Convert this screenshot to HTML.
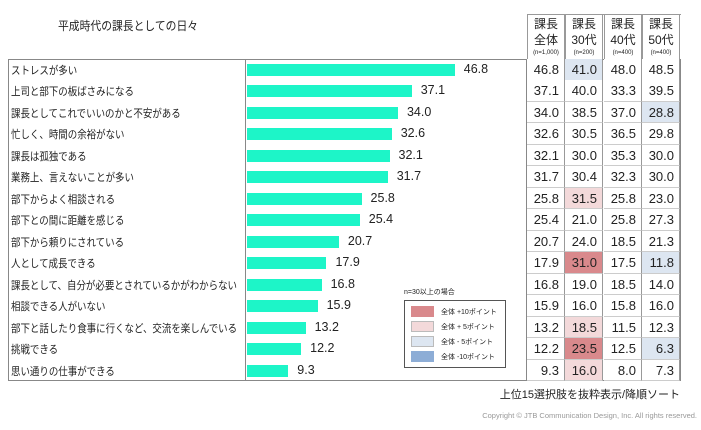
<!DOCTYPE html>
<html><head><meta charset="utf-8"><style>
body{margin:0;width:701px;height:430px;background:#fff;font-family:"Liberation Sans","Noto Sans CJK JP",sans-serif;position:relative;overflow:hidden;color:#222}
.a{position:absolute}
.lbl{font-size:11px;left:11px;white-space:nowrap;transform:scaleX(0.86);transform-origin:0 0}
.bar{background:#1df5c8;height:12px;left:247px}
.v{font-size:12.5px}
.c{position:absolute;width:38px;height:21px;font-size:13px;text-align:right;box-sizing:border-box;padding-right:5px;line-height:21px;border-right:1px solid #999;border-bottom:1px solid #ccc}
.h{position:absolute;width:38px;top:14px;height:45px;border-left:1px solid #999;border-right:1px solid #999;box-sizing:border-box;text-align:center;font-size:12px;line-height:16px;padding-top:2px}
.h small{font-size:6px;display:block;line-height:10px}
</style></head><body>
<div class="a" style="left:58px;top:17px;font-size:12px;transform:scaleX(0.9);transform-origin:0 0">平成時代の課長としての日々</div>
<div class="h" style="left:527px">課長<br>全体<small>(n=1,000)</small></div>
<div class="h" style="left:565px">課長<br>30代<small>(n=200)</small></div>
<div class="h" style="left:604px">課長<br>40代<small>(n=400)</small></div>
<div class="h" style="left:642px">課長<br>50代<small>(n=400)</small></div>
<div class="a" style="left:527px;top:14px;width:154px;border-top:1px solid #999"></div>
<div class="a" style="left:8px;top:59px;width:673px;height:322px;border:1px solid #888;box-sizing:border-box"></div>
<div class="a" style="left:245px;top:59px;height:322px;border-left:1px solid #888"></div>
<div class="a" style="left:526px;top:59px;height:322px;border-left:1px solid #888"></div>
<div id="rows"></div>
<div class="a" style="left:404px;top:287px;font-size:7px">n=30以上の場合</div>
<div class="a" style="left:404px;top:300px;width:102px;height:68px;border:1px solid #555;box-sizing:border-box"></div>
<div class="a" style="left:411px;top:306px;width:23px;height:11px;background:#d9898c"></div>
<div class="a" style="left:411px;top:321px;width:23px;height:11px;background:#f3d9da;border:1px solid #bbb;box-sizing:border-box"></div>
<div class="a" style="left:411px;top:336px;width:23px;height:11px;background:#dde6f1;border:1px solid #bbb;box-sizing:border-box"></div>
<div class="a" style="left:411px;top:351px;width:23px;height:11px;background:#8dadd6"></div>
<div class="a" style="left:441px;top:307px;font-size:7px">全体 +10ポイント</div>
<div class="a" style="left:441px;top:322px;font-size:7px">全体 + 5ポイント</div>
<div class="a" style="left:441px;top:337px;font-size:7px">全体 - 5ポイント</div>
<div class="a" style="left:441px;top:352px;font-size:7px">全体 -10ポイント</div>
<div class="a" style="right:21px;top:386px;font-size:11px">上位15選択肢を抜粋表示/降順ソート</div>
<div class="a" style="right:4px;top:411px;font-size:7.5px;color:#999">Copyright © JTB Communication Design, Inc. All rights reserved.</div>
<script>
var d=[["ストレスが多い",46.8,"41.0","48.0","48.5",[0,3,0,0]],
["上司と部下の板ばさみになる",37.1,"40.0","33.3","39.5",[0,0,0,0]],
["課長としてこれでいいのかと不安がある",34.0,"38.5","37.0","28.8",[0,0,0,3]],
["忙しく、時間の余裕がない",32.6,"30.5","36.5","29.8",[0,0,0,0]],
["課長は孤独である",32.1,"30.0","35.3","30.0",[0,0,0,0]],
["業務上、言えないことが多い",31.7,"30.4","32.3","30.0",[0,0,0,0]],
["部下からよく相談される",25.8,"31.5","25.8","23.0",[0,2,0,0]],
["部下との間に距離を感じる",25.4,"21.0","25.8","27.3",[0,0,0,0]],
["部下から頼りにされている",20.7,"24.0","18.5","21.3",[0,0,0,0]],
["人として成長できる",17.9,"31.0","17.5","11.8",[0,1,0,3]],
["課長として、自分が必要とされているかがわからない",16.8,"19.0","18.5","14.0",[0,0,0,0]],
["相談できる人がいない",15.9,"16.0","15.8","16.0",[0,0,0,0]],
["部下と話したり食事に行くなど、交流を楽しんでいる",13.2,"18.5","11.5","12.3",[0,2,0,0]],
["挑戦できる",12.2,"23.5","12.5","6.3",[0,1,0,3]],
["思い通りの仕事ができる",9.3,"16.0","8.0","7.3",[0,2,0,0]]];
var col=["#fff","#d9898c","#f3d9da","#dde6f1"],h="";
d.forEach(function(r,i){var y=59+i*21.47;
h+='<div class="a lbl" style="top:'+(y+3)+'px">'+r[0]+'</div>';
var w=r[1]*4.44;h+='<div class="a bar" style="top:'+(y+5)+'px;width:'+w+'px"></div>';
h+='<div class="a v" style="top:'+(y+3)+'px;left:'+(247+w+9)+'px">'+r[1].toFixed(1)+'</div>';
var vals=[r[1].toFixed(1),r[2],r[3],r[4]],xs=[527,565,604,642];
for(var k=0;k<4;k++)h+='<div class="c" style="left:'+xs[k]+'px;top:'+y+'px;height:21.5px;background:'+col[r[5][k]]+'">'+vals[k]+'</div>';
});
document.getElementById("rows").innerHTML=h;
</script>
</body></html>
